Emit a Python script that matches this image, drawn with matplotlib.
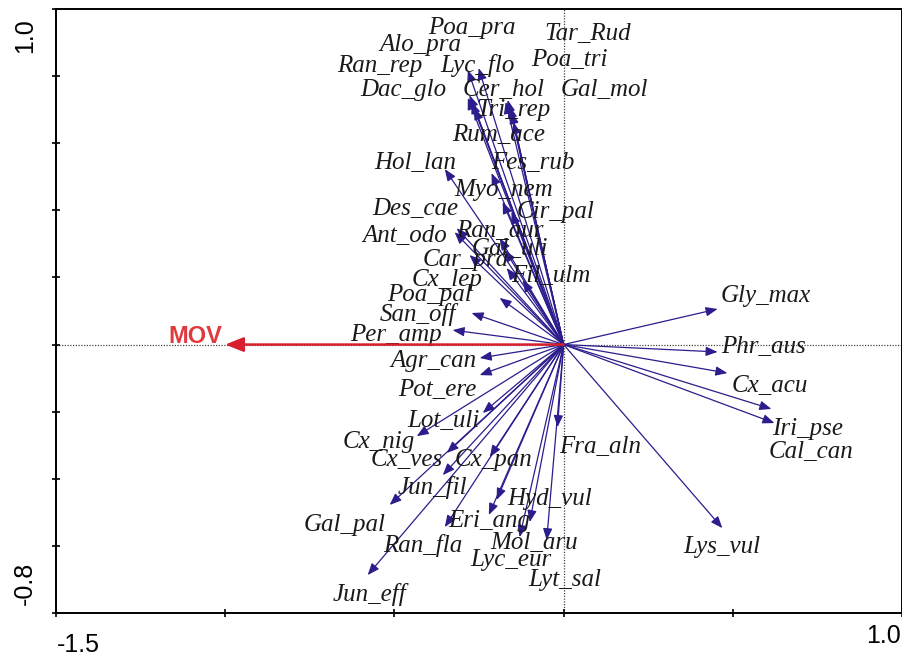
import matplotlib
matplotlib.use('Agg')
import matplotlib.pyplot as plt

# species scores (arrow tips) and where the label sits
species = ['Poa_pra', 'Tar_Rud', 'Alo_pra', 'Poa_tri', 'Ran_rep', 'Lyc_flo',
           'Dac_glo', 'Cer_hol', 'Gal_mol', 'Tri_rep', 'Rum_ace', 'Hol_lan',
           'Fes_rub', 'Myo_nem', 'Des_cae', 'Cir_pal', 'Ant_odo', 'Ran_aur',
           'Gal_uli', 'Car_pra', 'Cx_lep', 'Fil_ulm', 'Poa_pal', 'San_off',
           'Per_amp', 'Agr_can', 'Pot_ere', 'Lot_uli', 'Cx_nig', 'Cx_ves',
           'Cx_pan', 'Fra_aln', 'Jun_fil', 'Hyd_vul', 'Gal_pal', 'Eri_ang',
           'Ran_fla', 'Mol_aru', 'Lyc_eur', 'Lyt_sal', 'Jun_eff', 'Lys_vul',
           'Gly_max', 'Phr_aus', 'Cx_acu', 'Iri_pse', 'Cal_can']

arrow_x = [-0.283, -0.165, -0.278, -0.159, -0.283, -0.251,
           -0.272, -0.263, -0.154, -0.171, -0.148, -0.351,
           -0.213, -0.180, -0.316, -0.154, -0.322, -0.189,
           -0.174, -0.278, -0.168, -0.121, -0.189, -0.272,
           -0.328, -0.248, -0.248, -0.239, -0.434, -0.345,
           -0.218, -0.018, -0.357, -0.198, -0.514, -0.221,
           -0.351, -0.100, -0.130, -0.050, -0.579, 0.469,
           0.455, 0.455, 0.484, 0.614, 0.623]
arrow_y = [0.818, 0.729, 0.743, 0.711, 0.735, 0.824,
           0.723, 0.705, 0.693, 0.723, 0.663, 0.523,
           0.511, 0.425, 0.347, 0.395, 0.335, 0.317,
           0.282, 0.267, 0.228, 0.192, 0.139, 0.094,
           0.043, -0.040, -0.091, -0.204, -0.273, -0.323,
           -0.335, -0.246, -0.389, -0.463, -0.478, -0.508,
           -0.544, -0.529, -0.574, -0.583, -0.687, -0.547,
           0.106, -0.022, -0.085, -0.192, -0.234]

label_x = [-0.272, 0.071, -0.422, 0.018, -0.543, -0.254,
           -0.475, -0.177, 0.121, -0.148, -0.192, -0.437,
           -0.092, -0.177, -0.437, -0.024, -0.469, -0.189,
           -0.159, -0.289, -0.345, -0.038, -0.396, -0.431,
           -0.496, -0.384, -0.372, -0.354, -0.546, -0.464,
           -0.207, 0.109, -0.387, -0.041, -0.647, -0.221,
           -0.416, -0.086, -0.156, 0.003, -0.573, 0.469,
           0.596, 0.590, 0.608, 0.720, 0.732]
label_y = [0.952, 0.934, 0.901, 0.854, 0.839, 0.839,
           0.767, 0.767, 0.767, 0.705, 0.633, 0.550,
           0.550, 0.469, 0.410, 0.401, 0.332, 0.347,
           0.291, 0.258, 0.201, 0.213, 0.156, 0.097,
           0.037, -0.043, -0.127, -0.219, -0.282, -0.338,
           -0.338, -0.299, -0.419, -0.454, -0.529, -0.517,
           -0.591, -0.583, -0.636, -0.693, -0.737, -0.597,
           0.153, -0.001, -0.115, -0.243, -0.314]

# environmental variable
env_name = 'MOV'
env_x = -1.0
env_y = 0.0

arrow_col = '#2B1D8C'
red = '#D81F2D'

fig = plt.figure(figsize=(9.03, 6.56), dpi=100)
ax = fig.add_axes([56 / 903, 1 - 613 / 656, 846 / 903, 604 / 656])
ax.set_xlim(-1.5, 1.0)
ax.set_ylim(-0.8, 1.0)

ax.axhline(0, color='#444444', lw=0.9, ls=(0, (1, 1.2)), zorder=1)
ax.axvline(0, color='#444444', lw=0.9, ls=(0, (1, 1.2)), zorder=1)

for name, ax_, ay_, lx, ly in zip(species, arrow_x, arrow_y, label_x, label_y):
    ax.annotate('', xy=(ax_, ay_), xytext=(0, 0),
                arrowprops=dict(arrowstyle='-|>,head_length=0.5,head_width=0.2',
                                color=arrow_col, lw=0.9, mutation_scale=14,
                                shrinkA=0, shrinkB=0), zorder=2)
    ax.text(lx, ly, name, ha='center', va='center_baseline',
            family='Liberation Serif', style='italic', fontsize=18,
            color='#1a1a1a', zorder=3)

ax.annotate('', xy=(env_x, env_y), xytext=(0, 0),
            arrowprops=dict(arrowstyle='-|>,head_length=0.55,head_width=0.22',
                            color=red, lw=1.8, mutation_scale=20,
                            shrinkA=0, shrinkB=0), zorder=4)
ax.text(env_x - 0.01, env_y + 0.004, env_name, ha='right', va='baseline',
        family='Liberation Sans', weight='bold', fontsize=17, color='#E0393E',
        zorder=4)

# ticks without labels, the end values are written by hand like the original
ax.set_xticks([-1.5, -1.0, -0.5, 0.0, 0.5, 1.0])
ax.set_yticks([-0.8, -0.6, -0.4, -0.2, 0.0, 0.2, 0.4, 0.6, 0.8, 1.0])
ax.tick_params(direction='inout', length=6, width=1.2, labelbottom=False,
               labelleft=False)
for s in ax.spines.values():
    s.set_linewidth(1.4)

tick_font = dict(family='Liberation Sans', fontsize=18, color='black')
fig.text(57 / 903, 1 - 652 / 656, '-1.5', ha='left', va='baseline', **tick_font)
fig.text(901 / 903, 1 - 636 / 656, '1.0', ha='right', va='center', **tick_font)
fig.text(25 / 903, 1 - 36 / 656, '1.0', ha='center', va='center',
         rotation=90, **tick_font)
fig.text(25 / 903, 1 - 583 / 656, '-0.8', ha='center', va='center',
         rotation=90, **tick_font)

fig.savefig('out.png', dpi=100)
